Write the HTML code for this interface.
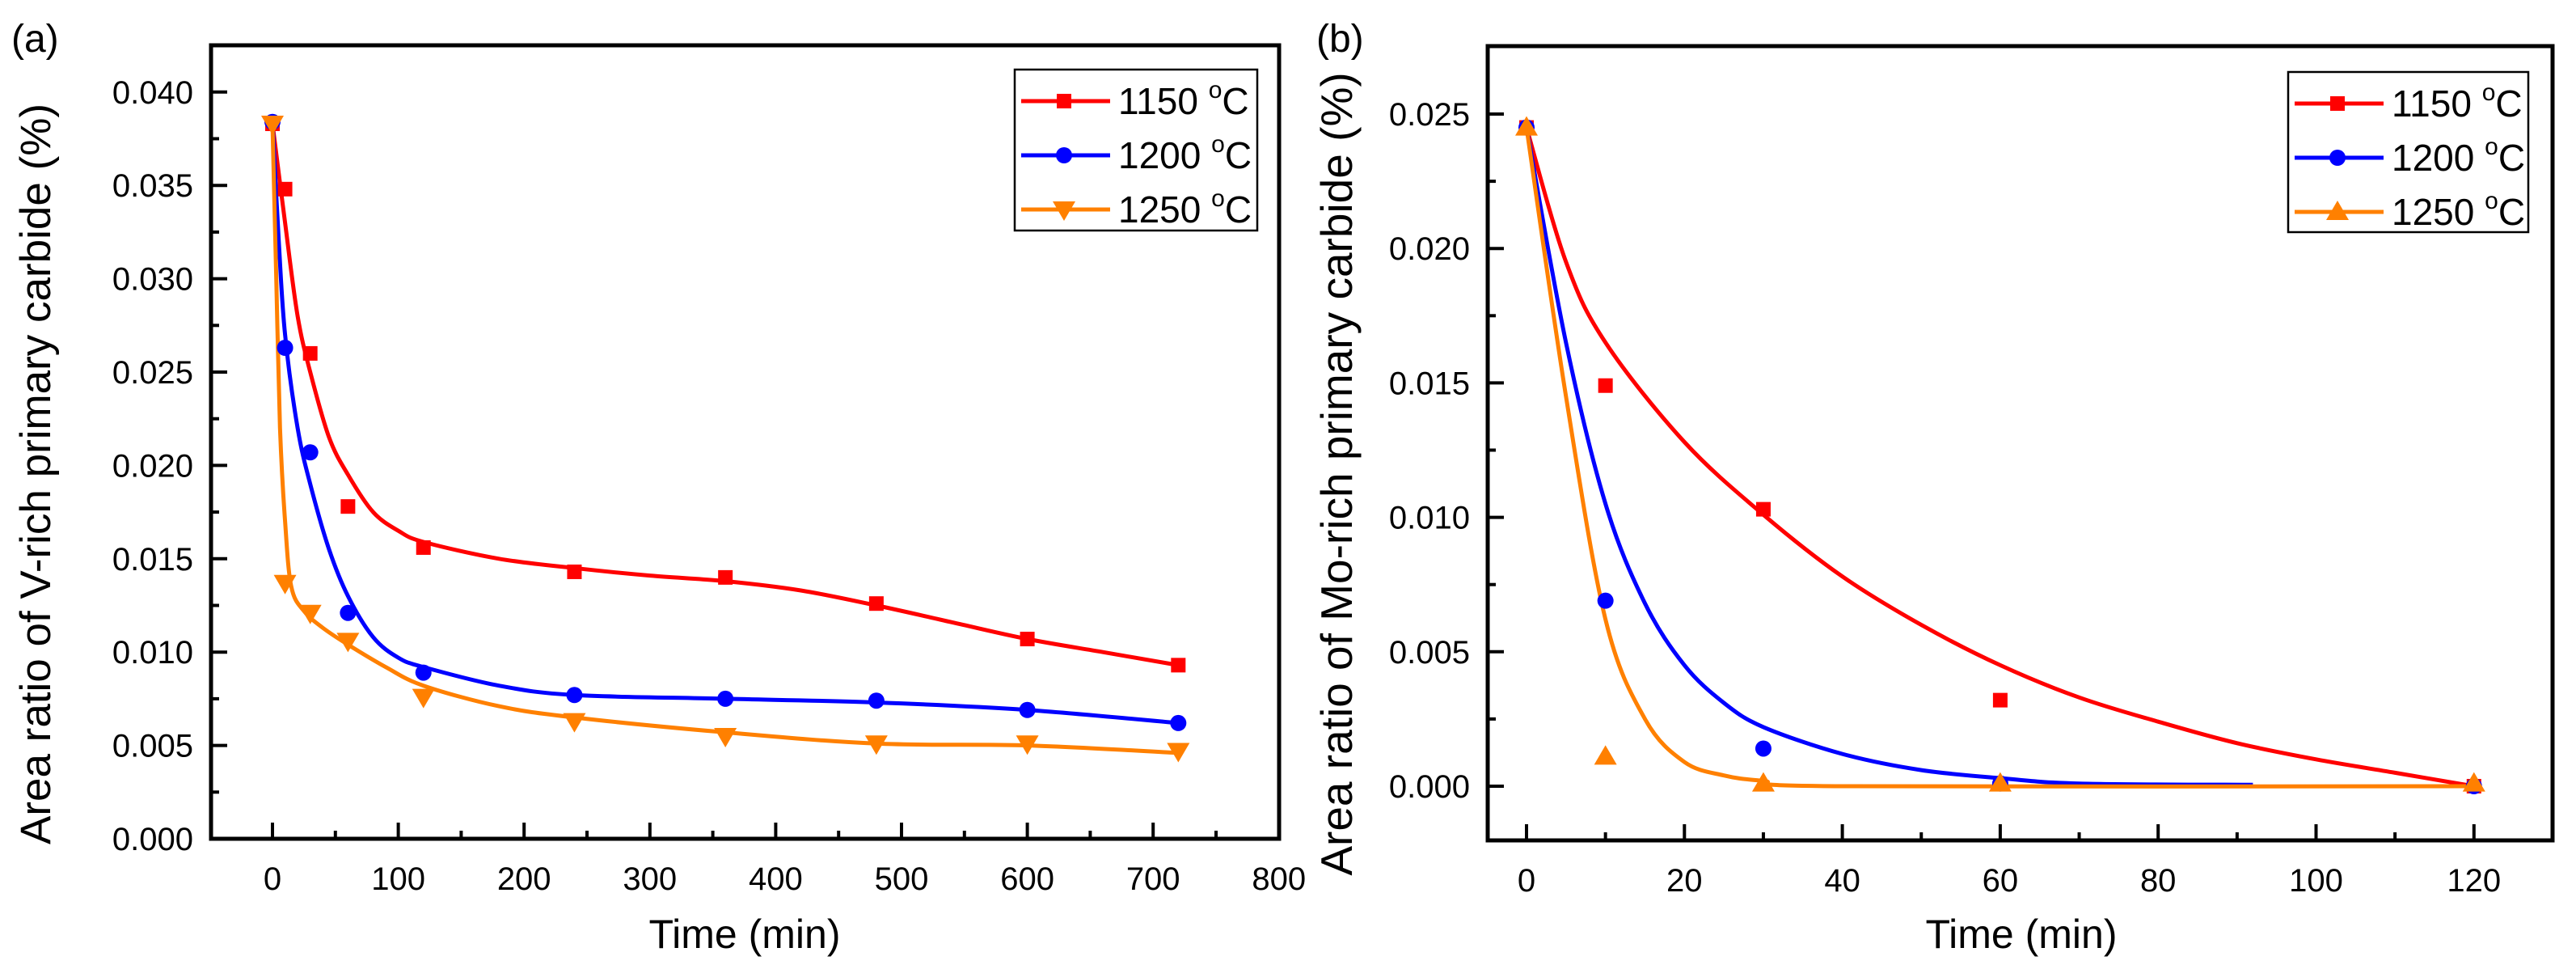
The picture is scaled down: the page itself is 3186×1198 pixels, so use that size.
<!DOCTYPE html>
<html><head><meta charset="utf-8"><style>
html,body{margin:0;padding:0;background:#fff;}
svg{display:block;font-family:"Liberation Sans",Arial,sans-serif;}
</style></head><body>
<svg id="fig" width="3186" height="1198" viewBox="0 0 3186 1198" xmlns="http://www.w3.org/2000/svg">
<rect width="3186" height="1198" fill="#fff"/>
</svg>
<script>
// ---------- Panel (a) data ----------
const aTimes = [0,10,30,60,120,240,360,480,600,720];
const a1150 = [0.0383,0.0348,0.0260,0.0178,0.0156,0.0143,0.0140,0.0126,0.0107,0.0093];
const a1200 = [0.0384,0.0263,0.0207,0.0121,0.0089,0.0077,0.0075,0.0074,0.0069,0.0062];
const a1250 = [0.0383,0.0137,0.0121,0.0106,0.0076,0.0063,0.0055,0.0051,0.0051,0.0047];
const aFit1150T = [0,10,20,30,45,60,80,100,120,180,240,300,360,420,480,540,600,660,720];
const aFit1150V = [0.0383,0.033,0.028,0.025,0.0215,0.0195,0.0175,0.0165,0.0159,0.0150,0.0145,0.0141,0.0138,0.0133,0.0125,0.0116,0.0107,0.0100,0.0093];
const aFit1200T = [0,5,10,20,30,45,60,80,100,120,180,240,360,480,600,720];
const aFit1200V = [0.0384,0.032,0.027,0.022,0.019,0.0155,0.013,0.0108,0.0097,0.0092,0.0082,0.0077,0.0075,0.0073,0.0069,0.0062];
const aFit1250T = [0,3,6,10,15,25,40,60,90,120,180,240,360,480,600,720];
const aFit1250V = [0.0383,0.030,0.022,0.017,0.0135,0.0122,0.0113,0.0104,0.0092,0.0082,0.0071,0.0065,0.0057,0.0051,0.0050,0.0046];
const aXTicks = [0,100,200,300,400,500,600,700,800];
const aYTicks = [0,0.005,0.010,0.015,0.020,0.025,0.030,0.035,0.040];
// ---------- Panel (b) data ----------
const bTimes = [0,10,30,60,120];
const b1150 = [0.0245,0.0149,0.0103,0.0032,0.0000];
const b1200 = [0.0245,0.0069,0.0014,0.0001,0.0000];
const b1250 = [0.0245,0.0011,0.0001,0.0001,0.0001];
const bFit1150T = [0,5,10,20,30,40,50,60,70,80,90,100,110,120];
const bFit1150V = [0.0245,0.0195,0.0165,0.0128,0.0101,0.0078,0.0060,0.0045,0.0033,0.0024,0.0016,0.0010,0.0005,0.0000];
const bFit1200T = [0,5,10,15,20,25,30,40,50,60,70,92];
const bFit1200V = [0.0245,0.0165,0.0105,0.0068,0.0045,0.0031,0.0022,0.0012,0.0006,0.0003,0.0001,0.00005];
const bFit1250T = [0,5,10,15,20,25,30,40,120];
const bFit1250V = [0.0245,0.0145,0.0062,0.0025,0.0009,0.0004,0.0002,0.0000,0.0000];
const bXTicks = [0,20,40,60,80,100,120];
const bYTicks = [0,0.005,0.010,0.015,0.020,0.025];

const NS = "http://www.w3.org/2000/svg";
const svg = document.getElementById('fig');
function mk(tag, attrs, parent){
  const e = document.createElementNS(NS, tag);
  for (const k in attrs) e.setAttribute(k, attrs[k]);
  (parent||svg).appendChild(e);
  return e;
}
const RED="#ff0000", BLUE="#0000ff", ORANGE="#ff8000";

function smoothPath(pts){
  let d = "M"+pts[0][0].toFixed(1)+","+pts[0][1].toFixed(1);
  for (let i=0;i<pts.length-1;i++){
    const p0=pts[Math.max(0,i-1)], p1=pts[i], p2=pts[i+1], p3=pts[Math.min(pts.length-1,i+2)];
    const c1=[p1[0]+(p2[0]-p0[0])/6, p1[1]+(p2[1]-p0[1])/6];
    const c2=[p2[0]-(p3[0]-p1[0])/6, p2[1]-(p3[1]-p1[1])/6];
    d += " C"+c1[0].toFixed(1)+","+c1[1].toFixed(1)+" "+c2[0].toFixed(1)+","+c2[1].toFixed(1)+" "+p2[0].toFixed(1)+","+p2[1].toFixed(1);
  }
  return d;
}
function marker(g, type, x, y, color){
  let e;
  if (type==='square'){ e = mk('rect',{x:x-9,y:y-9,width:18,height:18,fill:color},g); }
  else if (type==='circle'){ e = mk('circle',{cx:x,cy:y,r:10,fill:color},g); }
  else if (type==='down'){ e = mk('polygon',{points:(x-14)+","+(y-10)+" "+(x+14)+","+(y-10)+" "+x+","+(y+14),fill:color},g); }
  else { e = mk('polygon',{points:(x-14)+","+(y+10)+" "+(x+14)+","+(y+10)+" "+x+","+(y-14),fill:color},g); }
  return e;
}

function panel(cfg){
  const g = mk('g',{});
  
  
  const X = v => cfg.x0px + (v - cfg.x0)*cfg.xs;
  const Y = v => cfg.y0px - v*cfg.ys;
  const clipId = cfg.name+'-clip';
  const cp = mk('clipPath',{id:clipId},g);
  mk('rect',{x:cfg.L,y:cfg.T,width:cfg.R-cfg.L,height:cfg.B-cfg.T},cp);
  cfg.series.forEach(s=>{
    const pts = s.fitT.map((t,i)=>[X(t),Y(s.fitV[i])]);
    const p = mk('path',{d:smoothPath(pts),fill:'none',stroke:s.color,'stroke-width':5,'clip-path':'url(#'+clipId+')'},g);
    
    
  });
  cfg.series.forEach(s=>{
    const mg = mk('g',{},g);
    
    
    cfg.times.forEach((t,i)=>{
      const m = marker(mg, s.marker, X(t), Y(s.vals[i]), s.color);
      
      
    });
  });
  const fr = mk('rect',{x:cfg.L,y:cfg.T,width:cfg.R-cfg.L,height:cfg.B-cfg.T,fill:'none',stroke:'#000','stroke-width':5},g);
  
  
  const xt = mk('g',{},g);
  
  
  cfg.xTicks.forEach((t,i)=>{
    const x=X(t);
    mk('line',{x1:x,x2:x,y1:cfg.B,y2:cfg.B-20,stroke:'#000','stroke-width':4},xt);
    const lb = mk('text',{x:x,y:cfg.B+63,'font-size':40,'text-anchor':'middle',fill:'#000'},xt);
    lb.textContent = String(t);
    
    
    if (i<cfg.xTicks.length-1){
      const xm = X(t+cfg.xMinor);
      if (xm < cfg.R-3) mk('line',{x1:xm,x2:xm,y1:cfg.B,y2:cfg.B-10,stroke:'#000','stroke-width':4},xt);
    }
  });
  const yt = mk('g',{},g);
  
  
  cfg.yTicks.forEach((v,i)=>{
    const y=Y(v);
    mk('line',{x1:cfg.L,x2:cfg.L+20,y1:y,y2:y,stroke:'#000','stroke-width':4},yt);
    const lb = mk('text',{x:cfg.L-22,y:y+14,'font-size':40,'text-anchor':'end',fill:'#000'},yt);
    lb.textContent = v.toFixed(3);
    
    
    const ym = Y(v+0.0025);
    if (ym > cfg.T+3) mk('line',{x1:cfg.L,x2:cfg.L+10,y1:ym,y2:ym,stroke:'#000','stroke-width':4},yt);
  });
  const xtl = mk('text',{x:cfg.xTitleX,y:1172,'font-size':50,'text-anchor':'middle',fill:'#000'},g);
  xtl.textContent = 'Time (min)';
  
  
  const ytl = mk('text',{x:0,y:0,'font-size':cfg.yTitleSize,'text-anchor':'middle',fill:'#000',transform:'translate('+cfg.yTitleX+',586) rotate(-90)'},g);
  ytl.textContent = cfg.yTitle;
  
  
  const pl = mk('text',{x:cfg.labelX,y:64,'font-size':48,fill:'#000'},g);
  pl.textContent = cfg.label;
  
  
  const lg = mk('g',{},g);
  
  
  mk('rect',{x:cfg.leg.x,y:cfg.leg.y,width:cfg.leg.w,height:cfg.leg.h,fill:'#fff',stroke:'#000','stroke-width':2.5},lg);
  cfg.series.forEach((s,i)=>{
    const ey = cfg.leg.y+39+i*67;
    const le = mk('g',{},lg);
    
    
    mk('line',{x1:cfg.leg.x+8,x2:cfg.leg.x+118,y1:ey,y2:ey,stroke:s.color,'stroke-width':5},le);
    marker(le, s.marker, cfg.leg.x+61, ey, s.color);
    const t = mk('text',{x:cfg.leg.x+128,y:ey+16,'font-size':46,fill:'#000'},le);
    t.textContent = s.label+' ';
    const sup = mk('tspan',{'font-size':30,dy:-20},t);
    sup.textContent = 'o';
    const c = mk('tspan',{dy:20},t);
    c.textContent = 'C';
  });
}

panel({
  name:'panel-a', label:'(a)', labelX:14,
  L:261,R:1582,T:56,B:1037,
  x0:0, x0px:337, xs:1.556, y0px:1037, ys:115.4/0.005,
  xTicks:aXTicks, xMinor:50, yTicks:aYTicks,
  xTitleX:921, yTitleX:62, yTitleSize:53, yTitle:'Area ratio of V-rich primary carbide (%)',
  times:aTimes,
  leg:{x:1255,y:86,w:300,h:199},
  series:[
    {key:'1150C',label:'1150',color:RED,marker:'square',vals:a1150,fitT:aFit1150T,fitV:aFit1150V},
    {key:'1200C',label:'1200',color:BLUE,marker:'circle',vals:a1200,fitT:aFit1200T,fitV:aFit1200V},
    {key:'1250C',label:'1250',color:ORANGE,marker:'down',vals:a1250,fitT:aFit1250T,fitV:aFit1250V}
  ]
});
panel({
  name:'panel-b', label:'(b)', labelX:1628,
  L:1840,R:3157,T:57,B:1039,
  x0:0, x0px:1888, xs:195.3/20, y0px:972, ys:166.2/0.005,
  xTicks:bXTicks, xMinor:10, yTicks:bYTicks,
  xTitleX:2500, yTitleX:1672, yTitleSize:55, yTitle:'Area ratio of Mo-rich primary carbide (%)',
  times:bTimes,
  leg:{x:2830,y:89,w:297,h:198},
  series:[
    {key:'1150C',label:'1150',color:RED,marker:'square',vals:b1150,fitT:bFit1150T,fitV:bFit1150V},
    {key:'1200C',label:'1200',color:BLUE,marker:'circle',vals:b1200,fitT:bFit1200T,fitV:bFit1200V},
    {key:'1250C',label:'1250',color:ORANGE,marker:'up',vals:b1250,fitT:bFit1250T,fitV:bFit1250V}
  ]
});
</script>
</body></html>
